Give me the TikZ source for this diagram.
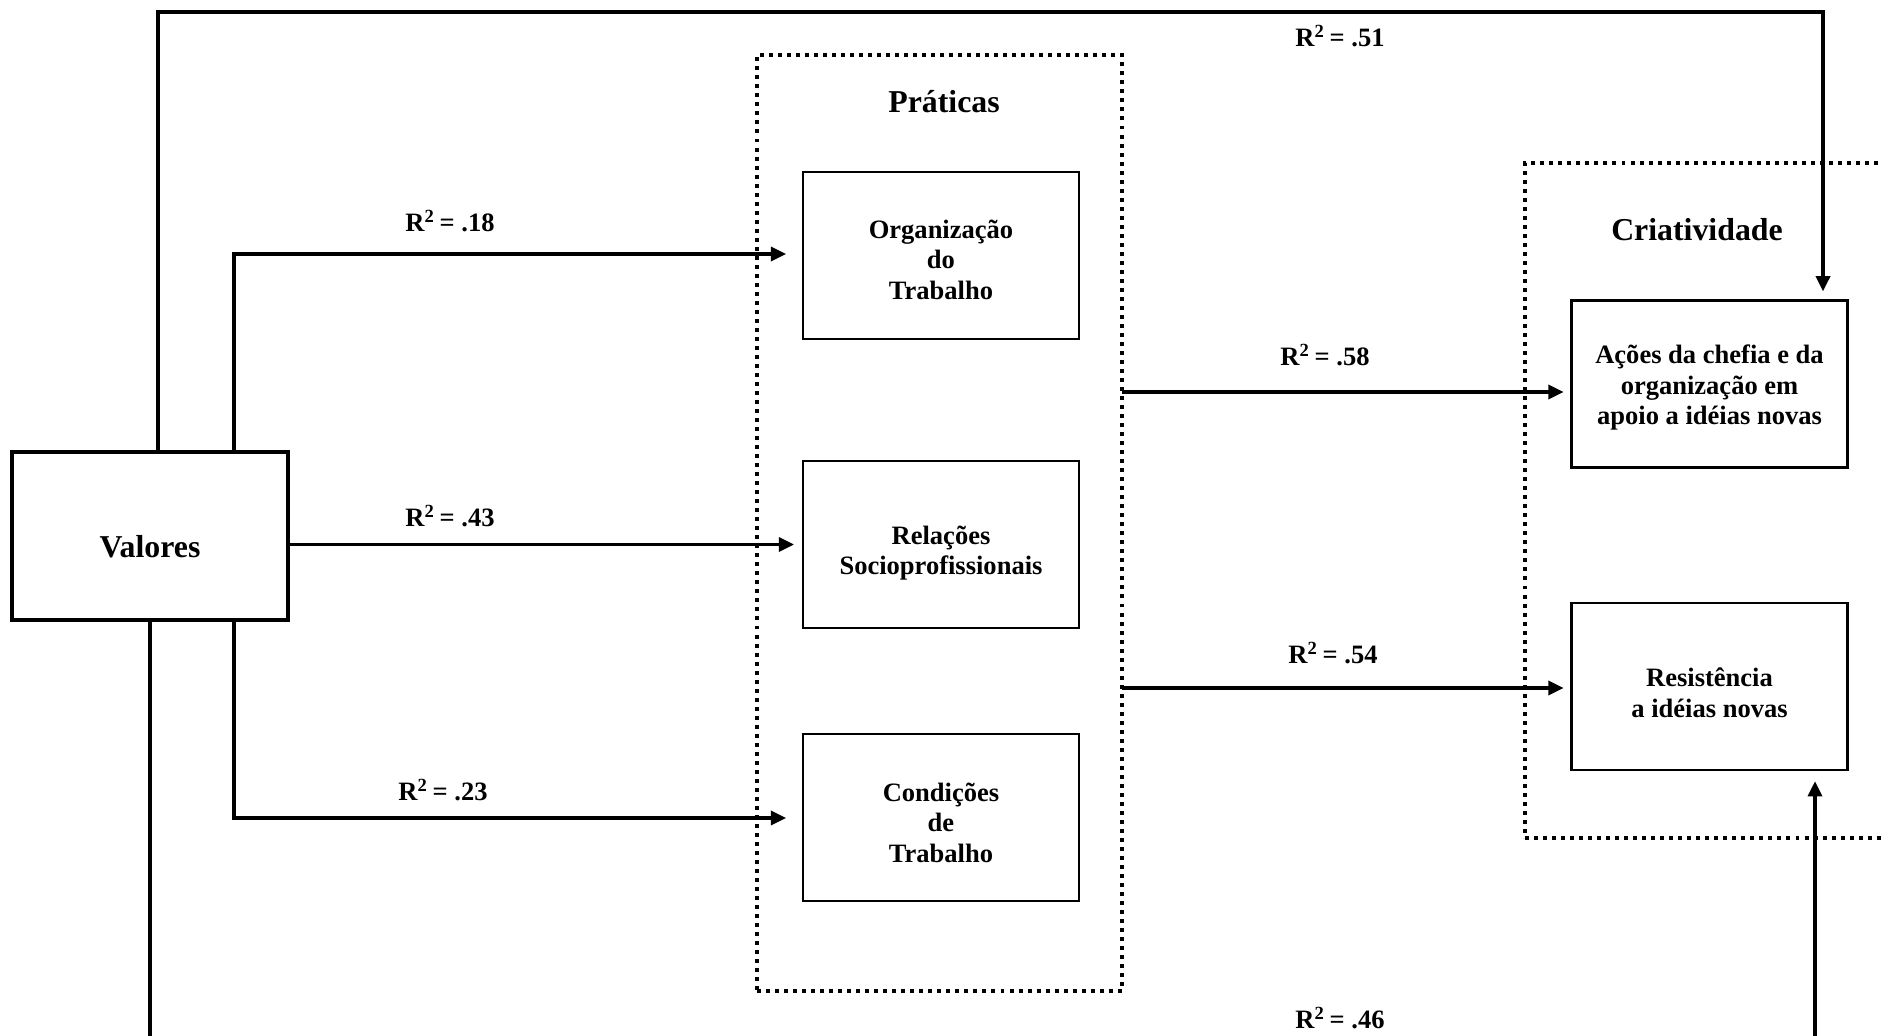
\documentclass[tikz,border=0pt]{standalone}
\usepackage{fontspec}
\setmainfont{Liberation Serif}
\usetikzlibrary{arrows.meta}
\begin{document}
\begin{tikzpicture}[x=0.377pt,y=-0.377pt,
  box/.style={draw,line width=0.85pt,minimum width=104pt,minimum height=63pt,inner sep=0pt},
  boxtext/.style={align=center,inner sep=0pt,font=\fontsize{10}{11.6}\selectfont\bfseries},
  groupbox/.style={draw,line width=1.5pt,dash pattern=on 1.5pt off 1.9pt,inner sep=0pt},
  arr/.style={line width=1.2pt,-{Triangle[length=5.7pt,width=5.3pt]}},
  rlab/.style={font=\fontsize{10}{12}\selectfont\bfseries,inner sep=0pt},
  grouptitle/.style={font=\fontsize{12}{14}\selectfont\bfseries,inner sep=0pt}]
\clip (0,0) rectangle (1881,1036);

% group frames
\node[groupbox,minimum width=137.6pt,minimum height=352.9pt] (prat) at (939.5,523) {};
\node[groupbox,minimum width=143.3pt,minimum height=254.5pt] (criat) at (1715,500.5) {};
\node[grouptitle] (pratT) at (944,102) {Práticas};
\node[grouptitle] (criatT) at (1697,230) {Criatividade};

% variables
\node[box,line width=1.4pt,minimum height=63.3pt] (valores) at (150,536) {};
\node[box] (org) at (941,255.5) {};
\node[box] (rel) at (941,544.5) {};
\node[box] (cond) at (941,817.5) {};
\node[box] (acoes) at (1709.5,384) {};
\node[box] (res) at (1709.5,686.5) {};

% variable names
\node[boxtext,font=\fontsize{12}{14}\selectfont\bfseries] (valoresT) at ([yshift=-4.1pt]valores.center) {Valores};
\node[boxtext] (orgT) at ([yshift=-1.6pt]org.center) {Organização\\do\\Trabalho};
\node[boxtext] (relT) at ([yshift=-3.2pt]rel.center) {Relações\\Socioprofissionais};
\node[boxtext] (condT) at ([yshift=-2pt]cond.center) {Condições\\de\\Trabalho};
\node[boxtext] (acoesT) at ([yshift=-1.4pt]acoes.center) {Ações da chefia e da\\organização em\\apoio a idéias novas};
\node[boxtext] (resT) at ([yshift=-2.3pt]res.center) {Resistência\\a idéias novas};

% routing points
\coordinate (t1) at (158,12);
\coordinate (t2) at (1823,12);
\coordinate (k1) at (234,254);
\coordinate (k3) at (234,818);
\coordinate (p1) at (1122,392);
\coordinate (p2) at (1122,688);
\coordinate (b1) at (150,1060);
\coordinate (b2) at (1815,1060);

% paths
\draw[arr,shorten >=3pt] (valores.north -| t1) -- (t1) -- (t2) -- (t2 |- acoes.north);
\draw[arr,shorten >=6pt] (valores.north -| k1) -- (k1) -- (k1 -| org.west);
\draw[arr,shorten >=3pt] (valores.east |- rel.west) -- (rel.west);
\draw[arr,shorten >=6pt] (valores.south -| k3) -- (k3) -- (k3 -| cond.west);
\draw[arr,shorten >=2.6pt] (p1) -- (p1 -| acoes.west);
\draw[arr,shorten >=2.6pt] (p2) -- (p2 -| res.west);
\draw[arr,shorten >=3.8pt] (valores.south -| b1) -- (b1) -- (b2) -- (b2 |- res.south);

% coefficients
\node[rlab] (r51) at (1340,36) {R\textsuperscript{2}\,= .51};
\node[rlab] (r18) at (450,221) {R\textsuperscript{2}\,= .18};
\node[rlab] (r43) at (450,516) {R\textsuperscript{2}\,= .43};
\node[rlab] (r23) at (443,790) {R\textsuperscript{2}\,= .23};
\node[rlab] (r58) at (1325,355) {R\textsuperscript{2}\,= .58};
\node[rlab] (r54) at (1333,653) {R\textsuperscript{2}\,= .54};
\node[rlab] (r46) at (1340,1018) {R\textsuperscript{2}\,= .46};
\end{tikzpicture}
\end{document}
